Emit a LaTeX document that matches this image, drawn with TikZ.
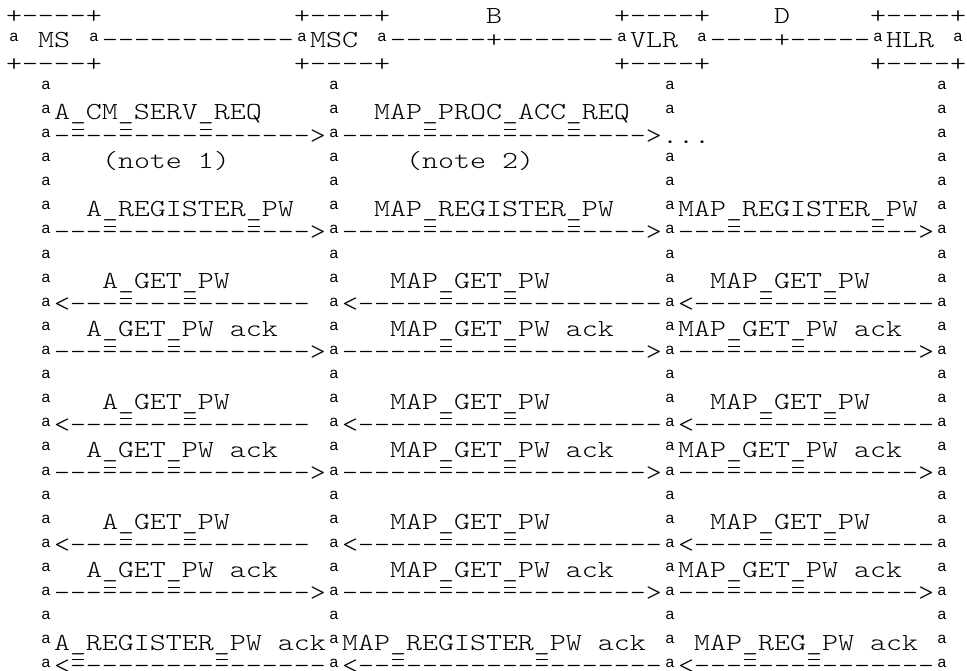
\documentclass[tikz,border=0pt]{standalone}
\usepackage{fontspec}
\usepackage{tikz}

\newfontfamily\asciifont{lmmonolt10-regular.otf}[FakeStretch=1.2439,Ligatures=TeXOff]
\newfontfamily\barfont{Liberation Sans}

\tikzset{
  ascii/.style={anchor=base west,inner sep=0pt,outer sep=0pt,text depth=0pt,
    font={\asciifont\fontsize{24.5}{24.5}\selectfont}},
  lifebar/.style={anchor=center,inner sep=0pt,outer sep=0pt,
    font={\barfont\fontsize{15.5}{15.5}\selectfont}},
  uline/.style={line width=0.8pt},
}

% one text cell is 16 wide, one row is 24.1 high
\newcommand\txt[3]{\node[ascii] (t#1c#2) at ({6+16*#2},{23.5+24.1*(#1-1)}) {#3};}
\newcommand\arr[3]{\node[ascii] (d#1c#2) at ({6+16*#2},{22.5+24.1*(#1-1)}) {#3};}
\newcommand\bars[2]{\foreach \c in {#2} {\node[lifebar] (a#1c\c) at ({14+16*\c},{13+24.1*(#1-1)}) {a};}}
\newcommand\ulmarks[2]{\foreach \c in {#2} {\draw[uline] ({8+16*\c},{9+24.1*(#1-1)}) -- ++(12,0);}}

\begin{document}
\begin{tikzpicture}[x=1pt,y=-1pt]
    \useasboundingbox (0,0) rectangle (967,670);

    % entities
    \foreach \r in {1,3} {
        \foreach \c in {0,18,38,54} {\txt{\r}{\c}{+----+}}
    }
    \txt{1}{30}{B}
    \txt{1}{48}{D}
    \txt{2}{2}{MS}
    \txt{2}{6}{------------}
    \txt{2}{19}{MSC}
    \txt{2}{24}{------+-------}
    \txt{2}{39}{VLR}
    \txt{2}{44}{----+-----}
    \txt{2}{55}{HLR}
    \bars{2}{0,5,18,23,38,43,54,59}

    % life lines
    \foreach \r in {4,...,28} {\bars{\r}{2,20,58}}
    \foreach \r in {4,5,7,8,...,28} {\bars{\r}{41}}

    % access request
    \txt{5}{3}{A\_CM\_SERV\_REQ}
    \txt{5}{23}{MAP\_PROC\_ACC\_REQ}
    \arr{6}{3}{---------------->}
    \arr{6}{21}{------------------->}
    \arr{6}{41}{...}
    \ulmarks{6}{4,7,12,26,31,35}
    \txt{7}{6}{(note 1)}
    \txt{7}{25}{(note 2)}

    % register password
    \txt{9}{5}{A\_REGISTER\_PW}
    \txt{9}{23}{MAP\_REGISTER\_PW}
    \txt{9}{42}{MAP\_REGISTER\_PW}
    \arr{10}{3}{---------------->}
    \arr{10}{21}{------------------->}
    \arr{10}{42}{--------------->}
    \ulmarks{10}{6,15,26,35,45,54}

    % get password, three times
    \foreach \r/\s/\t/\u in {12/13/14/15,17/18/19/20,22/23/24/25} {
        \txt{\r}{6}{A\_GET\_PW}
        \txt{\r}{24}{MAP\_GET\_PW}
        \txt{\r}{44}{MAP\_GET\_PW}
        \arr{\s}{3}{<---------------}
        \arr{\s}{21}{<-------------------}
        \arr{\s}{42}{<---------------}
        \ulmarks{\s}{7,11,27,31,47,51}
        \txt{\t}{5}{A\_GET\_PW ack}
        \txt{\t}{24}{MAP\_GET\_PW ack}
        \txt{\t}{42}{MAP\_GET\_PW ack}
        \arr{\u}{3}{---------------->}
        \arr{\u}{21}{------------------->}
        \arr{\u}{42}{--------------->}
        \ulmarks{\u}{6,10,27,31,45,49}
    }

    % register password ack
    \txt{27}{3}{A\_REGISTER\_PW ack}
    \txt{27}{21}{MAP\_REGISTER\_PW ack}
    \txt{27}{43}{MAP\_REG\_PW ack}
    \arr{28}{3}{<----------------}
    \arr{28}{21}{<-------------------}
    \arr{28}{42}{<---------------}
    \ulmarks{28}{4,13,24,33,46,50}
\end{tikzpicture}
\end{document}
